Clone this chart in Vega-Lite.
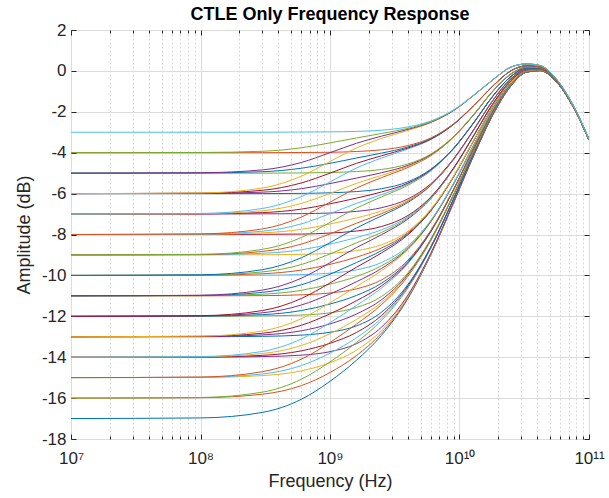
{
"$schema":"https://vega.github.io/schema/vega-lite/v6.json",
"width":518,"height":409,
"autosize":{"type":"none"},
"padding":{"left":71,"top":30,"right":20,"bottom":59},
"background":"white",
"config":{"view":{"stroke":"#262626","strokeWidth":1},"font":"Liberation Sans","axis":{"labelFont":"Liberation Sans","titleFont":"Liberation Sans","labelColor":"#262626","titleColor":"#262626","tickColor":"#262626","titleFontWeight":"normal"}},
"title":{"text":"CTLE Only Frequency Response","fontSize":18,"fontWeight":"bold","font":"Liberation Sans","color":"#000000","offset":-3,"anchor":"middle","frame":"group"},
"datasets":{"curves":[
{"c":1,"f":1e7,"a":-17},{"c":1,"f":1e8,"a":-16.97},{"c":1,"f":3e8,"a":-16.70},{"c":1,"f":6e8,"a":-16.06},{"c":1,"f":1e9,"a":-15.18},{"c":1,"f":1.6e9,"a":-14.15},{"c":1,"f":2.5e9,"a":-12.93},{"c":1,"f":4e9,"a":-11.13},{"c":1,"f":6e9,"a":-9.00},{"c":1,"f":9e9,"a":-6.45},{"c":1,"f":1.3e10,"a":-4.08},{"c":1,"f":1.8e10,"a":-2.18},{"c":1,"f":2.5e10,"a":-0.73},{"c":1,"f":3.3e10,"a":-0.06},{"c":1,"f":4.2e10,"a":0.01},{"c":1,"f":5.5e10,"a":-0.48},{"c":1,"f":7.5e10,"a":-1.73},{"c":1,"f":1e11,"a":-3.38},
{"c":2,"f":1e7,"a":-16},{"c":2,"f":1e8,"a":-15.98},{"c":2,"f":3e8,"a":-15.81},{"c":2,"f":6e8,"a":-15.39},{"c":2,"f":1e9,"a":-14.75},{"c":2,"f":1.6e9,"a":-13.92},{"c":2,"f":2.5e9,"a":-12.82},{"c":2,"f":4e9,"a":-11.08},{"c":2,"f":6e9,"a":-8.98},{"c":2,"f":9e9,"a":-6.45},{"c":2,"f":1.3e10,"a":-4.07},{"c":2,"f":1.8e10,"a":-2.18},{"c":2,"f":2.5e10,"a":-0.73},{"c":2,"f":3.3e10,"a":-0.06},{"c":2,"f":4.2e10,"a":0.01},{"c":2,"f":5.5e10,"a":-0.48},{"c":2,"f":7.5e10,"a":-1.73},{"c":2,"f":1e11,"a":-3.38},
{"c":3,"f":1e7,"a":-15},{"c":3,"f":1e8,"a":-14.99},{"c":3,"f":3e8,"a":-14.90},{"c":3,"f":6e8,"a":-14.67},{"c":3,"f":1e9,"a":-14.27},{"c":3,"f":1.6e9,"a":-13.66},{"c":3,"f":2.5e9,"a":-12.69},{"c":3,"f":4e9,"a":-11.03},{"c":3,"f":6e9,"a":-8.95},{"c":3,"f":9e9,"a":-6.43},{"c":3,"f":1.3e10,"a":-4.07},{"c":3,"f":1.8e10,"a":-2.17},{"c":3,"f":2.5e10,"a":-0.73},{"c":3,"f":3.3e10,"a":-0.06},{"c":3,"f":4.2e10,"a":0.01},{"c":3,"f":5.5e10,"a":-0.48},{"c":3,"f":7.5e10,"a":-1.73},{"c":3,"f":1e11,"a":-3.38},
{"c":4,"f":1e7,"a":-14},{"c":4,"f":1e8,"a":-14},{"c":4,"f":3e8,"a":-13.97},{"c":4,"f":6e8,"a":-13.90},{"c":4,"f":1e9,"a":-13.73},{"c":4,"f":1.6e9,"a":-13.34},{"c":4,"f":2.5e9,"a":-12.53},{"c":4,"f":4e9,"a":-10.96},{"c":4,"f":6e9,"a":-8.92},{"c":4,"f":9e9,"a":-6.42},{"c":4,"f":1.3e10,"a":-4.06},{"c":4,"f":1.8e10,"a":-2.17},{"c":4,"f":2.5e10,"a":-0.73},{"c":4,"f":3.3e10,"a":-0.06},{"c":4,"f":4.2e10,"a":0.01},{"c":4,"f":5.5e10,"a":-0.48},{"c":4,"f":7.5e10,"a":-1.73},{"c":4,"f":1e11,"a":-3.38},
{"c":5,"f":1e7,"a":-16},{"c":5,"f":1e8,"a":-15.97},{"c":5,"f":3e8,"a":-15.71},{"c":5,"f":6e8,"a":-15.08},{"c":5,"f":1e9,"a":-14.23},{"c":5,"f":1.6e9,"a":-13.28},{"c":5,"f":2.5e9,"a":-12.20},{"c":5,"f":4e9,"a":-10.61},{"c":5,"f":6e9,"a":-8.68},{"c":5,"f":9e9,"a":-6.28},{"c":5,"f":1.3e10,"a":-3.99},{"c":5,"f":1.8e10,"a":-2.13},{"c":5,"f":2.5e10,"a":-0.70},{"c":5,"f":3.3e10,"a":-0.05},{"c":5,"f":4.2e10,"a":0.02},{"c":5,"f":5.5e10,"a":-0.48},{"c":5,"f":7.5e10,"a":-1.72},{"c":5,"f":1e11,"a":-3.38},
{"c":6,"f":1e7,"a":-15},{"c":6,"f":1e8,"a":-14.98},{"c":6,"f":3e8,"a":-14.82},{"c":6,"f":6e8,"a":-14.41},{"c":6,"f":1e9,"a":-13.80},{"c":6,"f":1.6e9,"a":-13.05},{"c":6,"f":2.5e9,"a":-12.09},{"c":6,"f":4e9,"a":-10.56},{"c":6,"f":6e9,"a":-8.66},{"c":6,"f":9e9,"a":-6.28},{"c":6,"f":1.3e10,"a":-3.98},{"c":6,"f":1.8e10,"a":-2.13},{"c":6,"f":2.5e10,"a":-0.70},{"c":6,"f":3.3e10,"a":-0.05},{"c":6,"f":4.2e10,"a":0.02},{"c":6,"f":5.5e10,"a":-0.48},{"c":6,"f":7.5e10,"a":-1.72},{"c":6,"f":1e11,"a":-3.38},
{"c":7,"f":1e7,"a":-14},{"c":7,"f":1e8,"a":-13.99},{"c":7,"f":3e8,"a":-13.91},{"c":7,"f":6e8,"a":-13.69},{"c":7,"f":1e9,"a":-13.32},{"c":7,"f":1.6e9,"a":-12.79},{"c":7,"f":2.5e9,"a":-11.96},{"c":7,"f":4e9,"a":-10.51},{"c":7,"f":6e9,"a":-8.63},{"c":7,"f":9e9,"a":-6.26},{"c":7,"f":1.3e10,"a":-3.98},{"c":7,"f":1.8e10,"a":-2.12},{"c":7,"f":2.5e10,"a":-0.70},{"c":7,"f":3.3e10,"a":-0.05},{"c":7,"f":4.2e10,"a":0.02},{"c":7,"f":5.5e10,"a":-0.48},{"c":7,"f":7.5e10,"a":-1.72},{"c":7,"f":1e11,"a":-3.38},
{"c":8,"f":1e7,"a":-13},{"c":8,"f":1e8,"a":-13},{"c":8,"f":3e8,"a":-12.98},{"c":8,"f":6e8,"a":-12.92},{"c":8,"f":1e9,"a":-12.78},{"c":8,"f":1.6e9,"a":-12.47},{"c":8,"f":2.5e9,"a":-11.80},{"c":8,"f":4e9,"a":-10.44},{"c":8,"f":6e9,"a":-8.60},{"c":8,"f":9e9,"a":-6.25},{"c":8,"f":1.3e10,"a":-3.97},{"c":8,"f":1.8e10,"a":-2.12},{"c":8,"f":2.5e10,"a":-0.70},{"c":8,"f":3.3e10,"a":-0.05},{"c":8,"f":4.2e10,"a":0.02},{"c":8,"f":5.5e10,"a":-0.48},{"c":8,"f":7.5e10,"a":-1.72},{"c":8,"f":1e11,"a":-3.38},
{"c":9,"f":1e7,"a":-15},{"c":9,"f":1e8,"a":-14.97},{"c":9,"f":3e8,"a":-14.71},{"c":9,"f":6e8,"a":-14.10},{"c":9,"f":1e9,"a":-13.28},{"c":9,"f":1.6e9,"a":-12.38},{"c":9,"f":2.5e9,"a":-11.43},{"c":9,"f":4e9,"a":-10.04},{"c":9,"f":6e9,"a":-8.30},{"c":9,"f":9e9,"a":-6.07},{"c":9,"f":1.3e10,"a":-3.88},{"c":9,"f":1.8e10,"a":-2.07},{"c":9,"f":2.5e10,"a":-0.68},{"c":9,"f":3.3e10,"a":-0.04},{"c":9,"f":4.2e10,"a":0.03},{"c":9,"f":5.5e10,"a":-0.47},{"c":9,"f":7.5e10,"a":-1.72},{"c":9,"f":1e11,"a":-3.38},
{"c":10,"f":1e7,"a":-14},{"c":10,"f":1e8,"a":-13.98},{"c":10,"f":3e8,"a":-13.82},{"c":10,"f":6e8,"a":-13.43},{"c":10,"f":1e9,"a":-12.85},{"c":10,"f":1.6e9,"a":-12.15},{"c":10,"f":2.5e9,"a":-11.32},{"c":10,"f":4e9,"a":-9.99},{"c":10,"f":6e9,"a":-8.28},{"c":10,"f":9e9,"a":-6.07},{"c":10,"f":1.3e10,"a":-3.87},{"c":10,"f":1.8e10,"a":-2.07},{"c":10,"f":2.5e10,"a":-0.68},{"c":10,"f":3.3e10,"a":-0.04},{"c":10,"f":4.2e10,"a":0.03},{"c":10,"f":5.5e10,"a":-0.47},{"c":10,"f":7.5e10,"a":-1.72},{"c":10,"f":1e11,"a":-3.38},
{"c":11,"f":1e7,"a":-13},{"c":11,"f":1e8,"a":-12.99},{"c":11,"f":3e8,"a":-12.91},{"c":11,"f":6e8,"a":-12.71},{"c":11,"f":1e9,"a":-12.37},{"c":11,"f":1.6e9,"a":-11.89},{"c":11,"f":2.5e9,"a":-11.19},{"c":11,"f":4e9,"a":-9.94},{"c":11,"f":6e9,"a":-8.25},{"c":11,"f":9e9,"a":-6.05},{"c":11,"f":1.3e10,"a":-3.87},{"c":11,"f":1.8e10,"a":-2.06},{"c":11,"f":2.5e10,"a":-0.68},{"c":11,"f":3.3e10,"a":-0.04},{"c":11,"f":4.2e10,"a":0.03},{"c":11,"f":5.5e10,"a":-0.47},{"c":11,"f":7.5e10,"a":-1.72},{"c":11,"f":1e11,"a":-3.38},
{"c":12,"f":1e7,"a":-12},{"c":12,"f":1e8,"a":-12},{"c":12,"f":3e8,"a":-11.98},{"c":12,"f":6e8,"a":-11.94},{"c":12,"f":1e9,"a":-11.83},{"c":12,"f":1.6e9,"a":-11.57},{"c":12,"f":2.5e9,"a":-11.03},{"c":12,"f":4e9,"a":-9.87},{"c":12,"f":6e9,"a":-8.22},{"c":12,"f":9e9,"a":-6.04},{"c":12,"f":1.3e10,"a":-3.86},{"c":12,"f":1.8e10,"a":-2.06},{"c":12,"f":2.5e10,"a":-0.68},{"c":12,"f":3.3e10,"a":-0.04},{"c":12,"f":4.2e10,"a":0.03},{"c":12,"f":5.5e10,"a":-0.47},{"c":12,"f":7.5e10,"a":-1.72},{"c":12,"f":1e11,"a":-3.38},
{"c":13,"f":1e7,"a":-14},{"c":13,"f":1e8,"a":-13.97},{"c":13,"f":3e8,"a":-13.72},{"c":13,"f":6e8,"a":-13.11},{"c":13,"f":1e9,"a":-12.31},{"c":13,"f":1.6e9,"a":-11.47},{"c":13,"f":2.5e9,"a":-10.62},{"c":13,"f":4e9,"a":-9.42},{"c":13,"f":6e9,"a":-7.88},{"c":13,"f":9e9,"a":-5.82},{"c":13,"f":1.3e10,"a":-3.74},{"c":13,"f":1.8e10,"a":-2.00},{"c":13,"f":2.5e10,"a":-0.64},{"c":13,"f":3.3e10,"a":-0.02},{"c":13,"f":4.2e10,"a":0.03},{"c":13,"f":5.5e10,"a":-0.47},{"c":13,"f":7.5e10,"a":-1.72},{"c":13,"f":1e11,"a":-3.38},
{"c":14,"f":1e7,"a":-13},{"c":14,"f":1e8,"a":-12.98},{"c":14,"f":3e8,"a":-12.83},{"c":14,"f":6e8,"a":-12.44},{"c":14,"f":1e9,"a":-11.88},{"c":14,"f":1.6e9,"a":-11.24},{"c":14,"f":2.5e9,"a":-10.51},{"c":14,"f":4e9,"a":-9.37},{"c":14,"f":6e9,"a":-7.86},{"c":14,"f":9e9,"a":-5.82},{"c":14,"f":1.3e10,"a":-3.73},{"c":14,"f":1.8e10,"a":-2.00},{"c":14,"f":2.5e10,"a":-0.64},{"c":14,"f":3.3e10,"a":-0.02},{"c":14,"f":4.2e10,"a":0.03},{"c":14,"f":5.5e10,"a":-0.47},{"c":14,"f":7.5e10,"a":-1.72},{"c":14,"f":1e11,"a":-3.38},
{"c":15,"f":1e7,"a":-12},{"c":15,"f":1e8,"a":-11.99},{"c":15,"f":3e8,"a":-11.92},{"c":15,"f":6e8,"a":-11.72},{"c":15,"f":1e9,"a":-11.40},{"c":15,"f":1.6e9,"a":-10.98},{"c":15,"f":2.5e9,"a":-10.38},{"c":15,"f":4e9,"a":-9.32},{"c":15,"f":6e9,"a":-7.83},{"c":15,"f":9e9,"a":-5.80},{"c":15,"f":1.3e10,"a":-3.73},{"c":15,"f":1.8e10,"a":-1.99},{"c":15,"f":2.5e10,"a":-0.64},{"c":15,"f":3.3e10,"a":-0.02},{"c":15,"f":4.2e10,"a":0.03},{"c":15,"f":5.5e10,"a":-0.47},{"c":15,"f":7.5e10,"a":-1.72},{"c":15,"f":1e11,"a":-3.38},
{"c":16,"f":1e7,"a":-11},{"c":16,"f":1e8,"a":-11},{"c":16,"f":3e8,"a":-10.99},{"c":16,"f":6e8,"a":-10.95},{"c":16,"f":1e9,"a":-10.86},{"c":16,"f":1.6e9,"a":-10.66},{"c":16,"f":2.5e9,"a":-10.22},{"c":16,"f":4e9,"a":-9.25},{"c":16,"f":6e9,"a":-7.80},{"c":16,"f":9e9,"a":-5.79},{"c":16,"f":1.3e10,"a":-3.72},{"c":16,"f":1.8e10,"a":-1.99},{"c":16,"f":2.5e10,"a":-0.64},{"c":16,"f":3.3e10,"a":-0.02},{"c":16,"f":4.2e10,"a":0.03},{"c":16,"f":5.5e10,"a":-0.47},{"c":16,"f":7.5e10,"a":-1.72},{"c":16,"f":1e11,"a":-3.38},
{"c":17,"f":1e7,"a":-13},{"c":17,"f":1e8,"a":-12.97},{"c":17,"f":3e8,"a":-12.72},{"c":17,"f":6e8,"a":-12.12},{"c":17,"f":1e9,"a":-11.34},{"c":17,"f":1.6e9,"a":-10.54},{"c":17,"f":2.5e9,"a":-9.77},{"c":17,"f":4e9,"a":-8.74},{"c":17,"f":6e9,"a":-7.39},{"c":17,"f":9e9,"a":-5.53},{"c":17,"f":1.3e10,"a":-3.58},{"c":17,"f":1.8e10,"a":-1.90},{"c":17,"f":2.5e10,"a":-0.60},{"c":17,"f":3.3e10,"a":0.00},{"c":17,"f":4.2e10,"a":0.05},{"c":17,"f":5.5e10,"a":-0.46},{"c":17,"f":7.5e10,"a":-1.72},{"c":17,"f":1e11,"a":-3.38},
{"c":18,"f":1e7,"a":-12},{"c":18,"f":1e8,"a":-11.98},{"c":18,"f":3e8,"a":-11.83},{"c":18,"f":6e8,"a":-11.45},{"c":18,"f":1e9,"a":-10.91},{"c":18,"f":1.6e9,"a":-10.31},{"c":18,"f":2.5e9,"a":-9.66},{"c":18,"f":4e9,"a":-8.69},{"c":18,"f":6e9,"a":-7.37},{"c":18,"f":9e9,"a":-5.53},{"c":18,"f":1.3e10,"a":-3.57},{"c":18,"f":1.8e10,"a":-1.90},{"c":18,"f":2.5e10,"a":-0.60},{"c":18,"f":3.3e10,"a":0.00},{"c":18,"f":4.2e10,"a":0.05},{"c":18,"f":5.5e10,"a":-0.46},{"c":18,"f":7.5e10,"a":-1.72},{"c":18,"f":1e11,"a":-3.38},
{"c":19,"f":1e7,"a":-11},{"c":19,"f":1e8,"a":-10.99},{"c":19,"f":3e8,"a":-10.92},{"c":19,"f":6e8,"a":-10.73},{"c":19,"f":1e9,"a":-10.43},{"c":19,"f":1.6e9,"a":-10.05},{"c":19,"f":2.5e9,"a":-9.53},{"c":19,"f":4e9,"a":-8.64},{"c":19,"f":6e9,"a":-7.34},{"c":19,"f":9e9,"a":-5.51},{"c":19,"f":1.3e10,"a":-3.57},{"c":19,"f":1.8e10,"a":-1.89},{"c":19,"f":2.5e10,"a":-0.60},{"c":19,"f":3.3e10,"a":0.00},{"c":19,"f":4.2e10,"a":0.05},{"c":19,"f":5.5e10,"a":-0.46},{"c":19,"f":7.5e10,"a":-1.72},{"c":19,"f":1e11,"a":-3.38},
{"c":20,"f":1e7,"a":-10},{"c":20,"f":1e8,"a":-10},{"c":20,"f":3e8,"a":-9.99},{"c":20,"f":6e8,"a":-9.96},{"c":20,"f":1e9,"a":-9.89},{"c":20,"f":1.6e9,"a":-9.73},{"c":20,"f":2.5e9,"a":-9.37},{"c":20,"f":4e9,"a":-8.57},{"c":20,"f":6e9,"a":-7.31},{"c":20,"f":9e9,"a":-5.50},{"c":20,"f":1.3e10,"a":-3.56},{"c":20,"f":1.8e10,"a":-1.89},{"c":20,"f":2.5e10,"a":-0.60},{"c":20,"f":3.3e10,"a":0.00},{"c":20,"f":4.2e10,"a":0.05},{"c":20,"f":5.5e10,"a":-0.46},{"c":20,"f":7.5e10,"a":-1.72},{"c":20,"f":1e11,"a":-3.38},
{"c":21,"f":1e7,"a":-12},{"c":21,"f":1e8,"a":-11.97},{"c":21,"f":3e8,"a":-11.72},{"c":21,"f":6e8,"a":-11.13},{"c":21,"f":1e9,"a":-10.37},{"c":21,"f":1.6e9,"a":-9.60},{"c":21,"f":2.5e9,"a":-8.90},{"c":21,"f":4e9,"a":-8.01},{"c":21,"f":6e9,"a":-6.85},{"c":21,"f":9e9,"a":-5.18},{"c":21,"f":1.3e10,"a":-3.37},{"c":21,"f":1.8e10,"a":-1.78},{"c":21,"f":2.5e10,"a":-0.54},{"c":21,"f":3.3e10,"a":0.02},{"c":21,"f":4.2e10,"a":0.06},{"c":21,"f":5.5e10,"a":-0.46},{"c":21,"f":7.5e10,"a":-1.71},{"c":21,"f":1e11,"a":-3.38},
{"c":22,"f":1e7,"a":-11},{"c":22,"f":1e8,"a":-10.98},{"c":22,"f":3e8,"a":-10.83},{"c":22,"f":6e8,"a":-10.46},{"c":22,"f":1e9,"a":-9.94},{"c":22,"f":1.6e9,"a":-9.37},{"c":22,"f":2.5e9,"a":-8.79},{"c":22,"f":4e9,"a":-7.96},{"c":22,"f":6e9,"a":-6.83},{"c":22,"f":9e9,"a":-5.18},{"c":22,"f":1.3e10,"a":-3.36},{"c":22,"f":1.8e10,"a":-1.78},{"c":22,"f":2.5e10,"a":-0.54},{"c":22,"f":3.3e10,"a":0.02},{"c":22,"f":4.2e10,"a":0.06},{"c":22,"f":5.5e10,"a":-0.46},{"c":22,"f":7.5e10,"a":-1.71},{"c":22,"f":1e11,"a":-3.38},
{"c":23,"f":1e7,"a":-10},{"c":23,"f":1e8,"a":-9.99},{"c":23,"f":3e8,"a":-9.92},{"c":23,"f":6e8,"a":-9.74},{"c":23,"f":1e9,"a":-9.46},{"c":23,"f":1.6e9,"a":-9.11},{"c":23,"f":2.5e9,"a":-8.66},{"c":23,"f":4e9,"a":-7.91},{"c":23,"f":6e9,"a":-6.80},{"c":23,"f":9e9,"a":-5.16},{"c":23,"f":1.3e10,"a":-3.36},{"c":23,"f":1.8e10,"a":-1.77},{"c":23,"f":2.5e10,"a":-0.54},{"c":23,"f":3.3e10,"a":0.02},{"c":23,"f":4.2e10,"a":0.06},{"c":23,"f":5.5e10,"a":-0.46},{"c":23,"f":7.5e10,"a":-1.71},{"c":23,"f":1e11,"a":-3.38},
{"c":24,"f":1e7,"a":-9},{"c":24,"f":1e8,"a":-9},{"c":24,"f":3e8,"a":-8.99},{"c":24,"f":6e8,"a":-8.97},{"c":24,"f":1e9,"a":-8.92},{"c":24,"f":1.6e9,"a":-8.79},{"c":24,"f":2.5e9,"a":-8.50},{"c":24,"f":4e9,"a":-7.84},{"c":24,"f":6e9,"a":-6.77},{"c":24,"f":9e9,"a":-5.15},{"c":24,"f":1.3e10,"a":-3.35},{"c":24,"f":1.8e10,"a":-1.77},{"c":24,"f":2.5e10,"a":-0.54},{"c":24,"f":3.3e10,"a":0.02},{"c":24,"f":4.2e10,"a":0.06},{"c":24,"f":5.5e10,"a":-0.46},{"c":24,"f":7.5e10,"a":-1.71},{"c":24,"f":1e11,"a":-3.38},
{"c":25,"f":1e7,"a":-11},{"c":25,"f":1e8,"a":-10.97},{"c":25,"f":3e8,"a":-10.72},{"c":25,"f":6e8,"a":-10.14},{"c":25,"f":1e9,"a":-9.38},{"c":25,"f":1.6e9,"a":-8.64},{"c":25,"f":2.5e9,"a":-8.01},{"c":25,"f":4e9,"a":-7.24},{"c":25,"f":6e9,"a":-6.25},{"c":25,"f":9e9,"a":-4.78},{"c":25,"f":1.3e10,"a":-3.13},{"c":25,"f":1.8e10,"a":-1.64},{"c":25,"f":2.5e10,"a":-0.47},{"c":25,"f":3.3e10,"a":0.05},{"c":25,"f":4.2e10,"a":0.08},{"c":25,"f":5.5e10,"a":-0.44},{"c":25,"f":7.5e10,"a":-1.70},{"c":25,"f":1e11,"a":-3.37},
{"c":26,"f":1e7,"a":-10},{"c":26,"f":1e8,"a":-9.98},{"c":26,"f":3e8,"a":-9.83},{"c":26,"f":6e8,"a":-9.47},{"c":26,"f":1e9,"a":-8.95},{"c":26,"f":1.6e9,"a":-8.41},{"c":26,"f":2.5e9,"a":-7.90},{"c":26,"f":4e9,"a":-7.19},{"c":26,"f":6e9,"a":-6.23},{"c":26,"f":9e9,"a":-4.78},{"c":26,"f":1.3e10,"a":-3.12},{"c":26,"f":1.8e10,"a":-1.64},{"c":26,"f":2.5e10,"a":-0.47},{"c":26,"f":3.3e10,"a":0.05},{"c":26,"f":4.2e10,"a":0.08},{"c":26,"f":5.5e10,"a":-0.44},{"c":26,"f":7.5e10,"a":-1.70},{"c":26,"f":1e11,"a":-3.37},
{"c":27,"f":1e7,"a":-9},{"c":27,"f":1e8,"a":-8.99},{"c":27,"f":3e8,"a":-8.92},{"c":27,"f":6e8,"a":-8.75},{"c":27,"f":1e9,"a":-8.47},{"c":27,"f":1.6e9,"a":-8.15},{"c":27,"f":2.5e9,"a":-7.77},{"c":27,"f":4e9,"a":-7.14},{"c":27,"f":6e9,"a":-6.20},{"c":27,"f":9e9,"a":-4.76},{"c":27,"f":1.3e10,"a":-3.12},{"c":27,"f":1.8e10,"a":-1.63},{"c":27,"f":2.5e10,"a":-0.47},{"c":27,"f":3.3e10,"a":0.05},{"c":27,"f":4.2e10,"a":0.08},{"c":27,"f":5.5e10,"a":-0.44},{"c":27,"f":7.5e10,"a":-1.70},{"c":27,"f":1e11,"a":-3.37},
{"c":28,"f":1e7,"a":-8},{"c":28,"f":1e8,"a":-8},{"c":28,"f":3e8,"a":-7.99},{"c":28,"f":6e8,"a":-7.98},{"c":28,"f":1e9,"a":-7.93},{"c":28,"f":1.6e9,"a":-7.83},{"c":28,"f":2.5e9,"a":-7.61},{"c":28,"f":4e9,"a":-7.07},{"c":28,"f":6e9,"a":-6.17},{"c":28,"f":9e9,"a":-4.75},{"c":28,"f":1.3e10,"a":-3.11},{"c":28,"f":1.8e10,"a":-1.63},{"c":28,"f":2.5e10,"a":-0.47},{"c":28,"f":3.3e10,"a":0.05},{"c":28,"f":4.2e10,"a":0.08},{"c":28,"f":5.5e10,"a":-0.44},{"c":28,"f":7.5e10,"a":-1.70},{"c":28,"f":1e11,"a":-3.37},
{"c":29,"f":1e7,"a":-10},{"c":29,"f":1e8,"a":-9.97},{"c":29,"f":3e8,"a":-9.72},{"c":29,"f":6e8,"a":-9.14},{"c":29,"f":1e9,"a":-8.40},{"c":29,"f":1.6e9,"a":-7.68},{"c":29,"f":2.5e9,"a":-7.09},{"c":29,"f":4e9,"a":-6.43},{"c":29,"f":6e9,"a":-5.60},{"c":29,"f":9e9,"a":-4.33},{"c":29,"f":1.3e10,"a":-2.85},{"c":29,"f":1.8e10,"a":-1.47},{"c":29,"f":2.5e10,"a":-0.38},{"c":29,"f":3.3e10,"a":0.08},{"c":29,"f":4.2e10,"a":0.10},{"c":29,"f":5.5e10,"a":-0.43},{"c":29,"f":7.5e10,"a":-1.70},{"c":29,"f":1e11,"a":-3.37},
{"c":30,"f":1e7,"a":-9},{"c":30,"f":1e8,"a":-8.98},{"c":30,"f":3e8,"a":-8.83},{"c":30,"f":6e8,"a":-8.47},{"c":30,"f":1e9,"a":-7.97},{"c":30,"f":1.6e9,"a":-7.45},{"c":30,"f":2.5e9,"a":-6.98},{"c":30,"f":4e9,"a":-6.38},{"c":30,"f":6e9,"a":-5.58},{"c":30,"f":9e9,"a":-4.33},{"c":30,"f":1.3e10,"a":-2.84},{"c":30,"f":1.8e10,"a":-1.47},{"c":30,"f":2.5e10,"a":-0.38},{"c":30,"f":3.3e10,"a":0.08},{"c":30,"f":4.2e10,"a":0.10},{"c":30,"f":5.5e10,"a":-0.43},{"c":30,"f":7.5e10,"a":-1.70},{"c":30,"f":1e11,"a":-3.37},
{"c":31,"f":1e7,"a":-8},{"c":31,"f":1e8,"a":-7.99},{"c":31,"f":3e8,"a":-7.92},{"c":31,"f":6e8,"a":-7.75},{"c":31,"f":1e9,"a":-7.49},{"c":31,"f":1.6e9,"a":-7.19},{"c":31,"f":2.5e9,"a":-6.85},{"c":31,"f":4e9,"a":-6.33},{"c":31,"f":6e9,"a":-5.55},{"c":31,"f":9e9,"a":-4.31},{"c":31,"f":1.3e10,"a":-2.84},{"c":31,"f":1.8e10,"a":-1.46},{"c":31,"f":2.5e10,"a":-0.38},{"c":31,"f":3.3e10,"a":0.08},{"c":31,"f":4.2e10,"a":0.10},{"c":31,"f":5.5e10,"a":-0.43},{"c":31,"f":7.5e10,"a":-1.70},{"c":31,"f":1e11,"a":-3.37},
{"c":32,"f":1e7,"a":-7},{"c":32,"f":1e8,"a":-7},{"c":32,"f":3e8,"a":-6.99},{"c":32,"f":6e8,"a":-6.98},{"c":32,"f":1e9,"a":-6.95},{"c":32,"f":1.6e9,"a":-6.87},{"c":32,"f":2.5e9,"a":-6.69},{"c":32,"f":4e9,"a":-6.26},{"c":32,"f":6e9,"a":-5.52},{"c":32,"f":9e9,"a":-4.30},{"c":32,"f":1.3e10,"a":-2.83},{"c":32,"f":1.8e10,"a":-1.46},{"c":32,"f":2.5e10,"a":-0.38},{"c":32,"f":3.3e10,"a":0.08},{"c":32,"f":4.2e10,"a":0.10},{"c":32,"f":5.5e10,"a":-0.43},{"c":32,"f":7.5e10,"a":-1.70},{"c":32,"f":1e11,"a":-3.37},
{"c":33,"f":1e7,"a":-9},{"c":33,"f":1e8,"a":-8.97},{"c":33,"f":3e8,"a":-8.73},{"c":33,"f":6e8,"a":-8.15},{"c":33,"f":1e9,"a":-7.41},{"c":33,"f":1.6e9,"a":-6.71},{"c":33,"f":2.5e9,"a":-6.16},{"c":33,"f":4e9,"a":-5.59},{"c":33,"f":6e9,"a":-4.89},{"c":33,"f":9e9,"a":-3.81},{"c":33,"f":1.3e10,"a":-2.51},{"c":33,"f":1.8e10,"a":-1.26},{"c":33,"f":2.5e10,"a":-0.27},{"c":33,"f":3.3e10,"a":0.13},{"c":33,"f":4.2e10,"a":0.13},{"c":33,"f":5.5e10,"a":-0.41},{"c":33,"f":7.5e10,"a":-1.69},{"c":33,"f":1e11,"a":-3.36},
{"c":34,"f":1e7,"a":-8},{"c":34,"f":1e8,"a":-7.98},{"c":34,"f":3e8,"a":-7.84},{"c":34,"f":6e8,"a":-7.48},{"c":34,"f":1e9,"a":-6.98},{"c":34,"f":1.6e9,"a":-6.48},{"c":34,"f":2.5e9,"a":-6.05},{"c":34,"f":4e9,"a":-5.54},{"c":34,"f":6e9,"a":-4.87},{"c":34,"f":9e9,"a":-3.81},{"c":34,"f":1.3e10,"a":-2.50},{"c":34,"f":1.8e10,"a":-1.26},{"c":34,"f":2.5e10,"a":-0.27},{"c":34,"f":3.3e10,"a":0.13},{"c":34,"f":4.2e10,"a":0.13},{"c":34,"f":5.5e10,"a":-0.41},{"c":34,"f":7.5e10,"a":-1.69},{"c":34,"f":1e11,"a":-3.36},
{"c":35,"f":1e7,"a":-7},{"c":35,"f":1e8,"a":-6.99},{"c":35,"f":3e8,"a":-6.93},{"c":35,"f":6e8,"a":-6.76},{"c":35,"f":1e9,"a":-6.50},{"c":35,"f":1.6e9,"a":-6.22},{"c":35,"f":2.5e9,"a":-5.92},{"c":35,"f":4e9,"a":-5.49},{"c":35,"f":6e9,"a":-4.84},{"c":35,"f":9e9,"a":-3.79},{"c":35,"f":1.3e10,"a":-2.50},{"c":35,"f":1.8e10,"a":-1.25},{"c":35,"f":2.5e10,"a":-0.27},{"c":35,"f":3.3e10,"a":0.13},{"c":35,"f":4.2e10,"a":0.13},{"c":35,"f":5.5e10,"a":-0.41},{"c":35,"f":7.5e10,"a":-1.69},{"c":35,"f":1e11,"a":-3.36},
{"c":36,"f":1e7,"a":-6},{"c":36,"f":1e8,"a":-6},{"c":36,"f":3e8,"a":-6},{"c":36,"f":6e8,"a":-5.99},{"c":36,"f":1e9,"a":-5.96},{"c":36,"f":1.6e9,"a":-5.90},{"c":36,"f":2.5e9,"a":-5.76},{"c":36,"f":4e9,"a":-5.42},{"c":36,"f":6e9,"a":-4.81},{"c":36,"f":9e9,"a":-3.78},{"c":36,"f":1.3e10,"a":-2.49},{"c":36,"f":1.8e10,"a":-1.25},{"c":36,"f":2.5e10,"a":-0.27},{"c":36,"f":3.3e10,"a":0.13},{"c":36,"f":4.2e10,"a":0.13},{"c":36,"f":5.5e10,"a":-0.41},{"c":36,"f":7.5e10,"a":-1.69},{"c":36,"f":1e11,"a":-3.36},
{"c":37,"f":1e7,"a":-8},{"c":37,"f":1e8,"a":-7.97},{"c":37,"f":3e8,"a":-7.73},{"c":37,"f":6e8,"a":-7.15},{"c":37,"f":1e9,"a":-6.42},{"c":37,"f":1.6e9,"a":-5.73},{"c":37,"f":2.5e9,"a":-5.22},{"c":37,"f":4e9,"a":-4.72},{"c":37,"f":6e9,"a":-4.15},{"c":37,"f":9e9,"a":-3.24},{"c":37,"f":1.3e10,"a":-2.12},{"c":37,"f":1.8e10,"a":-1.01},{"c":37,"f":2.5e10,"a":-0.15},{"c":37,"f":3.3e10,"a":0.18},{"c":37,"f":4.2e10,"a":0.16},{"c":37,"f":5.5e10,"a":-0.39},{"c":37,"f":7.5e10,"a":-1.68},{"c":37,"f":1e11,"a":-3.36},
{"c":38,"f":1e7,"a":-7},{"c":38,"f":1e8,"a":-6.98},{"c":38,"f":3e8,"a":-6.84},{"c":38,"f":6e8,"a":-6.48},{"c":38,"f":1e9,"a":-5.99},{"c":38,"f":1.6e9,"a":-5.50},{"c":38,"f":2.5e9,"a":-5.11},{"c":38,"f":4e9,"a":-4.67},{"c":38,"f":6e9,"a":-4.13},{"c":38,"f":9e9,"a":-3.24},{"c":38,"f":1.3e10,"a":-2.11},{"c":38,"f":1.8e10,"a":-1.01},{"c":38,"f":2.5e10,"a":-0.15},{"c":38,"f":3.3e10,"a":0.18},{"c":38,"f":4.2e10,"a":0.16},{"c":38,"f":5.5e10,"a":-0.39},{"c":38,"f":7.5e10,"a":-1.68},{"c":38,"f":1e11,"a":-3.36},
{"c":39,"f":1e7,"a":-6},{"c":39,"f":1e8,"a":-5.99},{"c":39,"f":3e8,"a":-5.93},{"c":39,"f":6e8,"a":-5.76},{"c":39,"f":1e9,"a":-5.51},{"c":39,"f":1.6e9,"a":-5.24},{"c":39,"f":2.5e9,"a":-4.98},{"c":39,"f":4e9,"a":-4.62},{"c":39,"f":6e9,"a":-4.10},{"c":39,"f":9e9,"a":-3.22},{"c":39,"f":1.3e10,"a":-2.11},{"c":39,"f":1.8e10,"a":-1.00},{"c":39,"f":2.5e10,"a":-0.15},{"c":39,"f":3.3e10,"a":0.18},{"c":39,"f":4.2e10,"a":0.16},{"c":39,"f":5.5e10,"a":-0.39},{"c":39,"f":7.5e10,"a":-1.68},{"c":39,"f":1e11,"a":-3.36},
{"c":40,"f":1e7,"a":-5},{"c":40,"f":1e8,"a":-5},{"c":40,"f":3e8,"a":-5},{"c":40,"f":6e8,"a":-4.99},{"c":40,"f":1e9,"a":-4.97},{"c":40,"f":1.6e9,"a":-4.92},{"c":40,"f":2.5e9,"a":-4.82},{"c":40,"f":4e9,"a":-4.55},{"c":40,"f":6e9,"a":-4.07},{"c":40,"f":9e9,"a":-3.21},{"c":40,"f":1.3e10,"a":-2.10},{"c":40,"f":1.8e10,"a":-1.00},{"c":40,"f":2.5e10,"a":-0.15},{"c":40,"f":3.3e10,"a":0.18},{"c":40,"f":4.2e10,"a":0.16},{"c":40,"f":5.5e10,"a":-0.39},{"c":40,"f":7.5e10,"a":-1.68},{"c":40,"f":1e11,"a":-3.36},
{"c":41,"f":1e7,"a":-7},{"c":41,"f":1e8,"a":-6.97},{"c":41,"f":3e8,"a":-6.73},{"c":41,"f":6e8,"a":-6.15},{"c":41,"f":1e9,"a":-5.43},{"c":41,"f":1.6e9,"a":-4.75},{"c":41,"f":2.5e9,"a":-4.26},{"c":41,"f":4e9,"a":-3.82},{"c":41,"f":6e9,"a":-3.36},{"c":41,"f":9e9,"a":-2.62},{"c":41,"f":1.3e10,"a":-1.68},{"c":41,"f":1.8e10,"a":-0.76},{"c":41,"f":2.5e10,"a":0.01},{"c":41,"f":3.3e10,"a":0.25},{"c":41,"f":4.2e10,"a":0.20},{"c":41,"f":5.5e10,"a":-0.37},{"c":41,"f":7.5e10,"a":-1.66},{"c":41,"f":1e11,"a":-3.35},
{"c":42,"f":1e7,"a":-6},{"c":42,"f":1e8,"a":-5.98},{"c":42,"f":3e8,"a":-5.84},{"c":42,"f":6e8,"a":-5.48},{"c":42,"f":1e9,"a":-5.00},{"c":42,"f":1.6e9,"a":-4.52},{"c":42,"f":2.5e9,"a":-4.15},{"c":42,"f":4e9,"a":-3.77},{"c":42,"f":6e9,"a":-3.34},{"c":42,"f":9e9,"a":-2.62},{"c":42,"f":1.3e10,"a":-1.67},{"c":42,"f":1.8e10,"a":-0.76},{"c":42,"f":2.5e10,"a":0.01},{"c":42,"f":3.3e10,"a":0.25},{"c":42,"f":4.2e10,"a":0.20},{"c":42,"f":5.5e10,"a":-0.37},{"c":42,"f":7.5e10,"a":-1.66},{"c":42,"f":1e11,"a":-3.35},
{"c":43,"f":1e7,"a":-5},{"c":43,"f":1e8,"a":-4.99},{"c":43,"f":3e8,"a":-4.93},{"c":43,"f":6e8,"a":-4.76},{"c":43,"f":1e9,"a":-4.52},{"c":43,"f":1.6e9,"a":-4.26},{"c":43,"f":2.5e9,"a":-4.02},{"c":43,"f":4e9,"a":-3.72},{"c":43,"f":6e9,"a":-3.31},{"c":43,"f":9e9,"a":-2.60},{"c":43,"f":1.3e10,"a":-1.67},{"c":43,"f":1.8e10,"a":-0.75},{"c":43,"f":2.5e10,"a":0.01},{"c":43,"f":3.3e10,"a":0.25},{"c":43,"f":4.2e10,"a":0.20},{"c":43,"f":5.5e10,"a":-0.37},{"c":43,"f":7.5e10,"a":-1.66},{"c":43,"f":1e11,"a":-3.35},
{"c":44,"f":1e7,"a":-4},{"c":44,"f":1e8,"a":-4},{"c":44,"f":3e8,"a":-4},{"c":44,"f":6e8,"a":-3.99},{"c":44,"f":1e9,"a":-3.98},{"c":44,"f":1.6e9,"a":-3.94},{"c":44,"f":2.5e9,"a":-3.86},{"c":44,"f":4e9,"a":-3.65},{"c":44,"f":6e9,"a":-3.28},{"c":44,"f":9e9,"a":-2.59},{"c":44,"f":1.3e10,"a":-1.66},{"c":44,"f":1.8e10,"a":-0.75},{"c":44,"f":2.5e10,"a":0.01},{"c":44,"f":3.3e10,"a":0.25},{"c":44,"f":4.2e10,"a":0.20},{"c":44,"f":5.5e10,"a":-0.37},{"c":44,"f":7.5e10,"a":-1.66},{"c":44,"f":1e11,"a":-3.35},
{"c":45,"f":1e7,"a":-6},{"c":45,"f":1e8,"a":-5.97},{"c":45,"f":3e8,"a":-5.73},{"c":45,"f":6e8,"a":-5.15},{"c":45,"f":1e9,"a":-4.43},{"c":45,"f":1.6e9,"a":-3.77},{"c":45,"f":2.5e9,"a":-3.30},{"c":45,"f":4e9,"a":-2.91},{"c":45,"f":6e9,"a":-2.53},{"c":45,"f":9e9,"a":-1.94},{"c":45,"f":1.3e10,"a":-1.18},{"c":45,"f":1.8e10,"a":-0.45},{"c":45,"f":2.5e10,"a":0.19},{"c":45,"f":3.3e10,"a":0.34},{"c":45,"f":4.2e10,"a":0.26},{"c":45,"f":5.5e10,"a":-0.34},{"c":45,"f":7.5e10,"a":-1.65},{"c":45,"f":1e11,"a":-3.34},
{"c":46,"f":1e7,"a":-5},{"c":46,"f":1e8,"a":-4.98},{"c":46,"f":3e8,"a":-4.84},{"c":46,"f":6e8,"a":-4.48},{"c":46,"f":1e9,"a":-4.00},{"c":46,"f":1.6e9,"a":-3.54},{"c":46,"f":2.5e9,"a":-3.19},{"c":46,"f":4e9,"a":-2.86},{"c":46,"f":6e9,"a":-2.51},{"c":46,"f":9e9,"a":-1.94},{"c":46,"f":1.3e10,"a":-1.17},{"c":46,"f":1.8e10,"a":-0.45},{"c":46,"f":2.5e10,"a":0.19},{"c":46,"f":3.3e10,"a":0.34},{"c":46,"f":4.2e10,"a":0.26},{"c":46,"f":5.5e10,"a":-0.34},{"c":46,"f":7.5e10,"a":-1.65},{"c":46,"f":1e11,"a":-3.34},
{"c":47,"f":1e7,"a":-4},{"c":47,"f":1e8,"a":-3.99},{"c":47,"f":3e8,"a":-3.93},{"c":47,"f":6e8,"a":-3.76},{"c":47,"f":1e9,"a":-3.52},{"c":47,"f":1.6e9,"a":-3.28},{"c":47,"f":2.5e9,"a":-3.06},{"c":47,"f":4e9,"a":-2.81},{"c":47,"f":6e9,"a":-2.48},{"c":47,"f":9e9,"a":-1.92},{"c":47,"f":1.3e10,"a":-1.17},{"c":47,"f":1.8e10,"a":-0.44},{"c":47,"f":2.5e10,"a":0.19},{"c":47,"f":3.3e10,"a":0.34},{"c":47,"f":4.2e10,"a":0.26},{"c":47,"f":5.5e10,"a":-0.34},{"c":47,"f":7.5e10,"a":-1.65},{"c":47,"f":1e11,"a":-3.34},
{"c":48,"f":1e7,"a":-3},{"c":48,"f":1e8,"a":-3},{"c":48,"f":3e8,"a":-3},{"c":48,"f":6e8,"a":-2.99},{"c":48,"f":1e9,"a":-2.98},{"c":48,"f":1.6e9,"a":-2.96},{"c":48,"f":2.5e9,"a":-2.90},{"c":48,"f":4e9,"a":-2.74},{"c":48,"f":6e9,"a":-2.45},{"c":48,"f":9e9,"a":-1.91},{"c":48,"f":1.3e10,"a":-1.16},{"c":48,"f":1.8e10,"a":-0.44},{"c":48,"f":2.5e10,"a":0.19},{"c":48,"f":3.3e10,"a":0.34},{"c":48,"f":4.2e10,"a":0.26},{"c":48,"f":5.5e10,"a":-0.34},{"c":48,"f":7.5e10,"a":-1.65},{"c":48,"f":1e11,"a":-3.34}
],
"frame":[{"f":1e7,"a":-18},{"f":1e11,"a":2}]},
"layer":[
{"data":{"name":"frame"},"mark":{"type":"point","opacity":0},
 "encoding":{
  "x":{"field":"f","type":"quantitative","scale":{"type":"log","domain":[1e7,1e11]},
   "axis":{"orient":"bottom","values":[2e7,3e7,4e7,5e7,6e7,7e7,8e7,9e7,2e8,3e8,4e8,5e8,6e8,7e8,8e8,9e8,2e9,3e9,4e9,5e9,6e9,7e9,8e9,9e9,2e10,3e10,4e10,5e10,6e10,7e10,8e10,9e10],"grid":true,"gridDash":[2,2],"gridColor":"#cccccc","gridWidth":0.8,"ticks":false,"labels":false,"domain":false,"title":null}},
  "y":{"field":"a","type":"quantitative","scale":{"domain":[-18,2]},
   "axis":{"orient":"left","values":[-18,-16,-14,-12,-10,-8,-6,-4,-2,0,2],"grid":true,"gridColor":"#dcdcdc","ticks":false,"domain":false,"labelExpr":"'' + datum.value","labelFontSize":17,"labelPadding":5,"title":"Amplitude (dB)","titleFontSize":18,"titlePadding":8}}}},
{"data":{"name":"frame"},"mark":{"type":"point","opacity":0},
 "encoding":{
  "x":{"field":"f","type":"quantitative","scale":{"type":"log","domain":[1e7,1e11]},
   "axis":{"orient":"bottom","values":[1e7,1e8,1e9,1e10,1e11],"grid":true,"gridColor":"#dcdcdc","ticks":false,"domain":false,"labelExpr":"datum.value == 1e7 ? '10⁷' : datum.value == 1e8 ? '10⁸' : datum.value == 1e9 ? '10⁹' : datum.value == 1e10 ? '10¹⁰' : '10¹¹'","labelFontSize":17,"labelPadding":11,"labelFlush":false,"title":"Frequency (Hz)","titleFontSize":18,"titlePadding":6}},
  "y":{"field":"a","type":"quantitative","scale":{"domain":[-18,2]},
   "axis":{"orient":"left","values":[-18,-16,-14,-12,-10,-8,-6,-4,-2,0,2],"grid":false,"ticks":true,"tickSize":-5,"labels":false,"domain":false,"title":null}}}},
{"data":{"name":"frame"},"mark":{"type":"point","opacity":0},
 "encoding":{
  "x":{"field":"f","type":"quantitative","scale":{"type":"log","domain":[1e7,1e11]},
   "axis":{"orient":"bottom","values":[2e7,3e7,4e7,5e7,6e7,7e7,8e7,9e7,2e8,3e8,4e8,5e8,6e8,7e8,8e8,9e8,2e9,3e9,4e9,5e9,6e9,7e9,8e9,9e9,2e10,3e10,4e10,5e10,6e10,7e10,8e10,9e10],"grid":false,"ticks":true,"tickSize":-3,"labels":false,"domain":false,"title":null}},
  "y":{"field":"a","type":"quantitative","scale":{"domain":[-18,2]},
   "axis":{"orient":"right","values":[-18,-16,-14,-12,-10,-8,-6,-4,-2,0,2],"grid":false,"ticks":true,"tickSize":-5,"labels":false,"domain":false,"title":null}}}},
{"data":{"name":"frame"},"mark":{"type":"point","opacity":0},
 "encoding":{
  "x":{"field":"f","type":"quantitative","scale":{"type":"log","domain":[1e7,1e11]},
   "axis":{"orient":"bottom","values":[1e7,1e8,1e9,1e10,1e11],"grid":false,"ticks":true,"tickSize":-5,"labels":false,"domain":false,"title":null}},
  "y":{"field":"a","type":"quantitative","scale":{"domain":[-18,2]},"axis":null}}},
{"data":{"name":"frame"},"mark":{"type":"point","opacity":0},
 "encoding":{
  "x":{"field":"f","type":"quantitative","scale":{"type":"log","domain":[1e7,1e11]},
   "axis":{"orient":"top","values":[2e7,3e7,4e7,5e7,6e7,7e7,8e7,9e7,2e8,3e8,4e8,5e8,6e8,7e8,8e8,9e8,2e9,3e9,4e9,5e9,6e9,7e9,8e9,9e9,2e10,3e10,4e10,5e10,6e10,7e10,8e10,9e10],"grid":false,"ticks":true,"tickSize":-3,"labels":false,"domain":false,"title":null}},
  "y":{"field":"a","type":"quantitative","scale":{"domain":[-18,2]},"axis":null}}},
{"data":{"name":"frame"},"mark":{"type":"point","opacity":0},
 "encoding":{
  "x":{"field":"f","type":"quantitative","scale":{"type":"log","domain":[1e7,1e11]},
   "axis":{"orient":"top","values":[1e7,1e8,1e9,1e10,1e11],"grid":false,"ticks":true,"tickSize":-5,"labels":false,"domain":false,"title":null}},
  "y":{"field":"a","type":"quantitative","scale":{"domain":[-18,2]},"axis":null}}},
{"data":{"name":"curves"},"mark":{"type":"line","strokeWidth":1,"interpolate":"monotone","clip":true},
 "encoding":{
  "x":{"field":"f","type":"quantitative","scale":{"type":"log","domain":[1e7,1e11]},"axis":null},
  "y":{"field":"a","type":"quantitative","scale":{"domain":[-18,2]},"axis":null},
  "color":{"field":"c","type":"ordinal","scale":{"range":["#0072BD","#D95319","#EDB120","#7E2F8E","#77AC30","#4DBEEE","#A2142F"]},"legend":null},
  "order":{"field":"f","type":"quantitative"}}}
],
"resolve":{"axis":{"x":"independent","y":"independent"}}
}
